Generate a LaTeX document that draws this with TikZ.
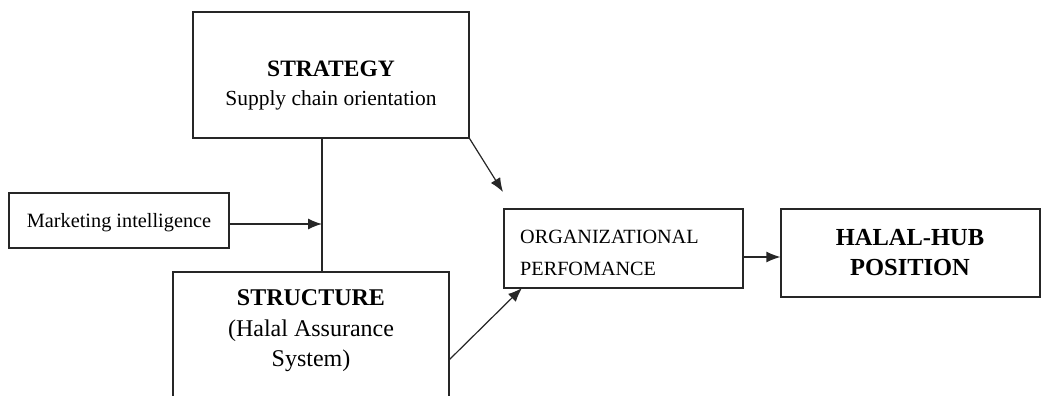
\documentclass[tikz,border=0pt]{standalone}
\usepackage{fontspec}
\setmainfont{Liberation Serif}
\usetikzlibrary{arrows.meta,calc}
\begin{document}
\begin{tikzpicture}[x=1pt,y=-1pt,
  box/.style={draw=black!85, line width=1.2pt, rectangle, inner sep=0pt},
  lbl/.style={inner sep=0pt, anchor=base},
  arr/.style={draw=black!85, line width=1.2pt, -{Latex[length=14pt,width=11pt]}},
  ln/.style={draw=black!85, line width=1.2pt}]
\useasboundingbox (0,0) rectangle (1044,396);
% boxes
\node[box, minimum width=276pt, minimum height=126pt] (strategy) at (331,75) {};
\node[box, minimum width=220pt, minimum height=55pt] (mi) at (119,220.5) {};
\node[box, minimum width=276pt, minimum height=160pt] (structure) at (311,352) {};
\node[box, minimum width=239pt, minimum height=79pt] (org) at (623.5,248.5) {};
\node[box, minimum width=259pt, minimum height=88pt] (halal) at (910.5,253) {};
% texts
\node[lbl, font=\fontsize{23.5}{28}\selectfont\bfseries] (t1) at (331,77) {STRATEGY};
\node[lbl, font=\fontsize{21.5}{26}\selectfont] (t2) at (331,106) {Supply chain orientation};
\node[lbl, font=\fontsize{20.3}{24}\selectfont] (t3) at (119,227) {Marketing intelligence};
\node[lbl, font=\fontsize{24}{28}\selectfont\bfseries] (t4) at (311,305) {STRUCTURE};
\node[lbl, font=\fontsize{24}{28}\selectfont] (t5) at (311,336) {(Halal Assurance};
\node[lbl, font=\fontsize{24}{28}\selectfont] (t6) at (311,366) {System)};
\node[lbl, anchor=base west, font=\fontsize{20.2}{24}\selectfont] (t7) at (520,243) {ORGANIZATIONAL};
\node[lbl, anchor=base west, font=\fontsize{20.2}{24}\selectfont] (t8) at (520,275) {PERFOMANCE};
\node[lbl, font=\fontsize{24.5}{28}\selectfont\bfseries] (t9) at (910,245) {HALAL-HUB};
\node[lbl, font=\fontsize{24.5}{28}\selectfont\bfseries] (t10) at (910,275) {POSITION};
% connector coordinates
\coordinate (jn) at (322,224);
\coordinate (tipA) at (503,192);
\coordinate (startB) at (449,360);
\coordinate (tipB) at (522,288);
\coordinate (ay) at (760,257);
% connectors
\draw[ln] (strategy.south -| jn) -- (structure.north -| jn);
\draw[arr] (mi.east |- jn) -- (jn);
\draw[arr] (strategy.south east) -- (tipA);
\draw[arr] (startB) -- (tipB);
\draw[arr] (org.east |- ay) -- (halal.west |- ay);
\end{tikzpicture}
\end{document}
